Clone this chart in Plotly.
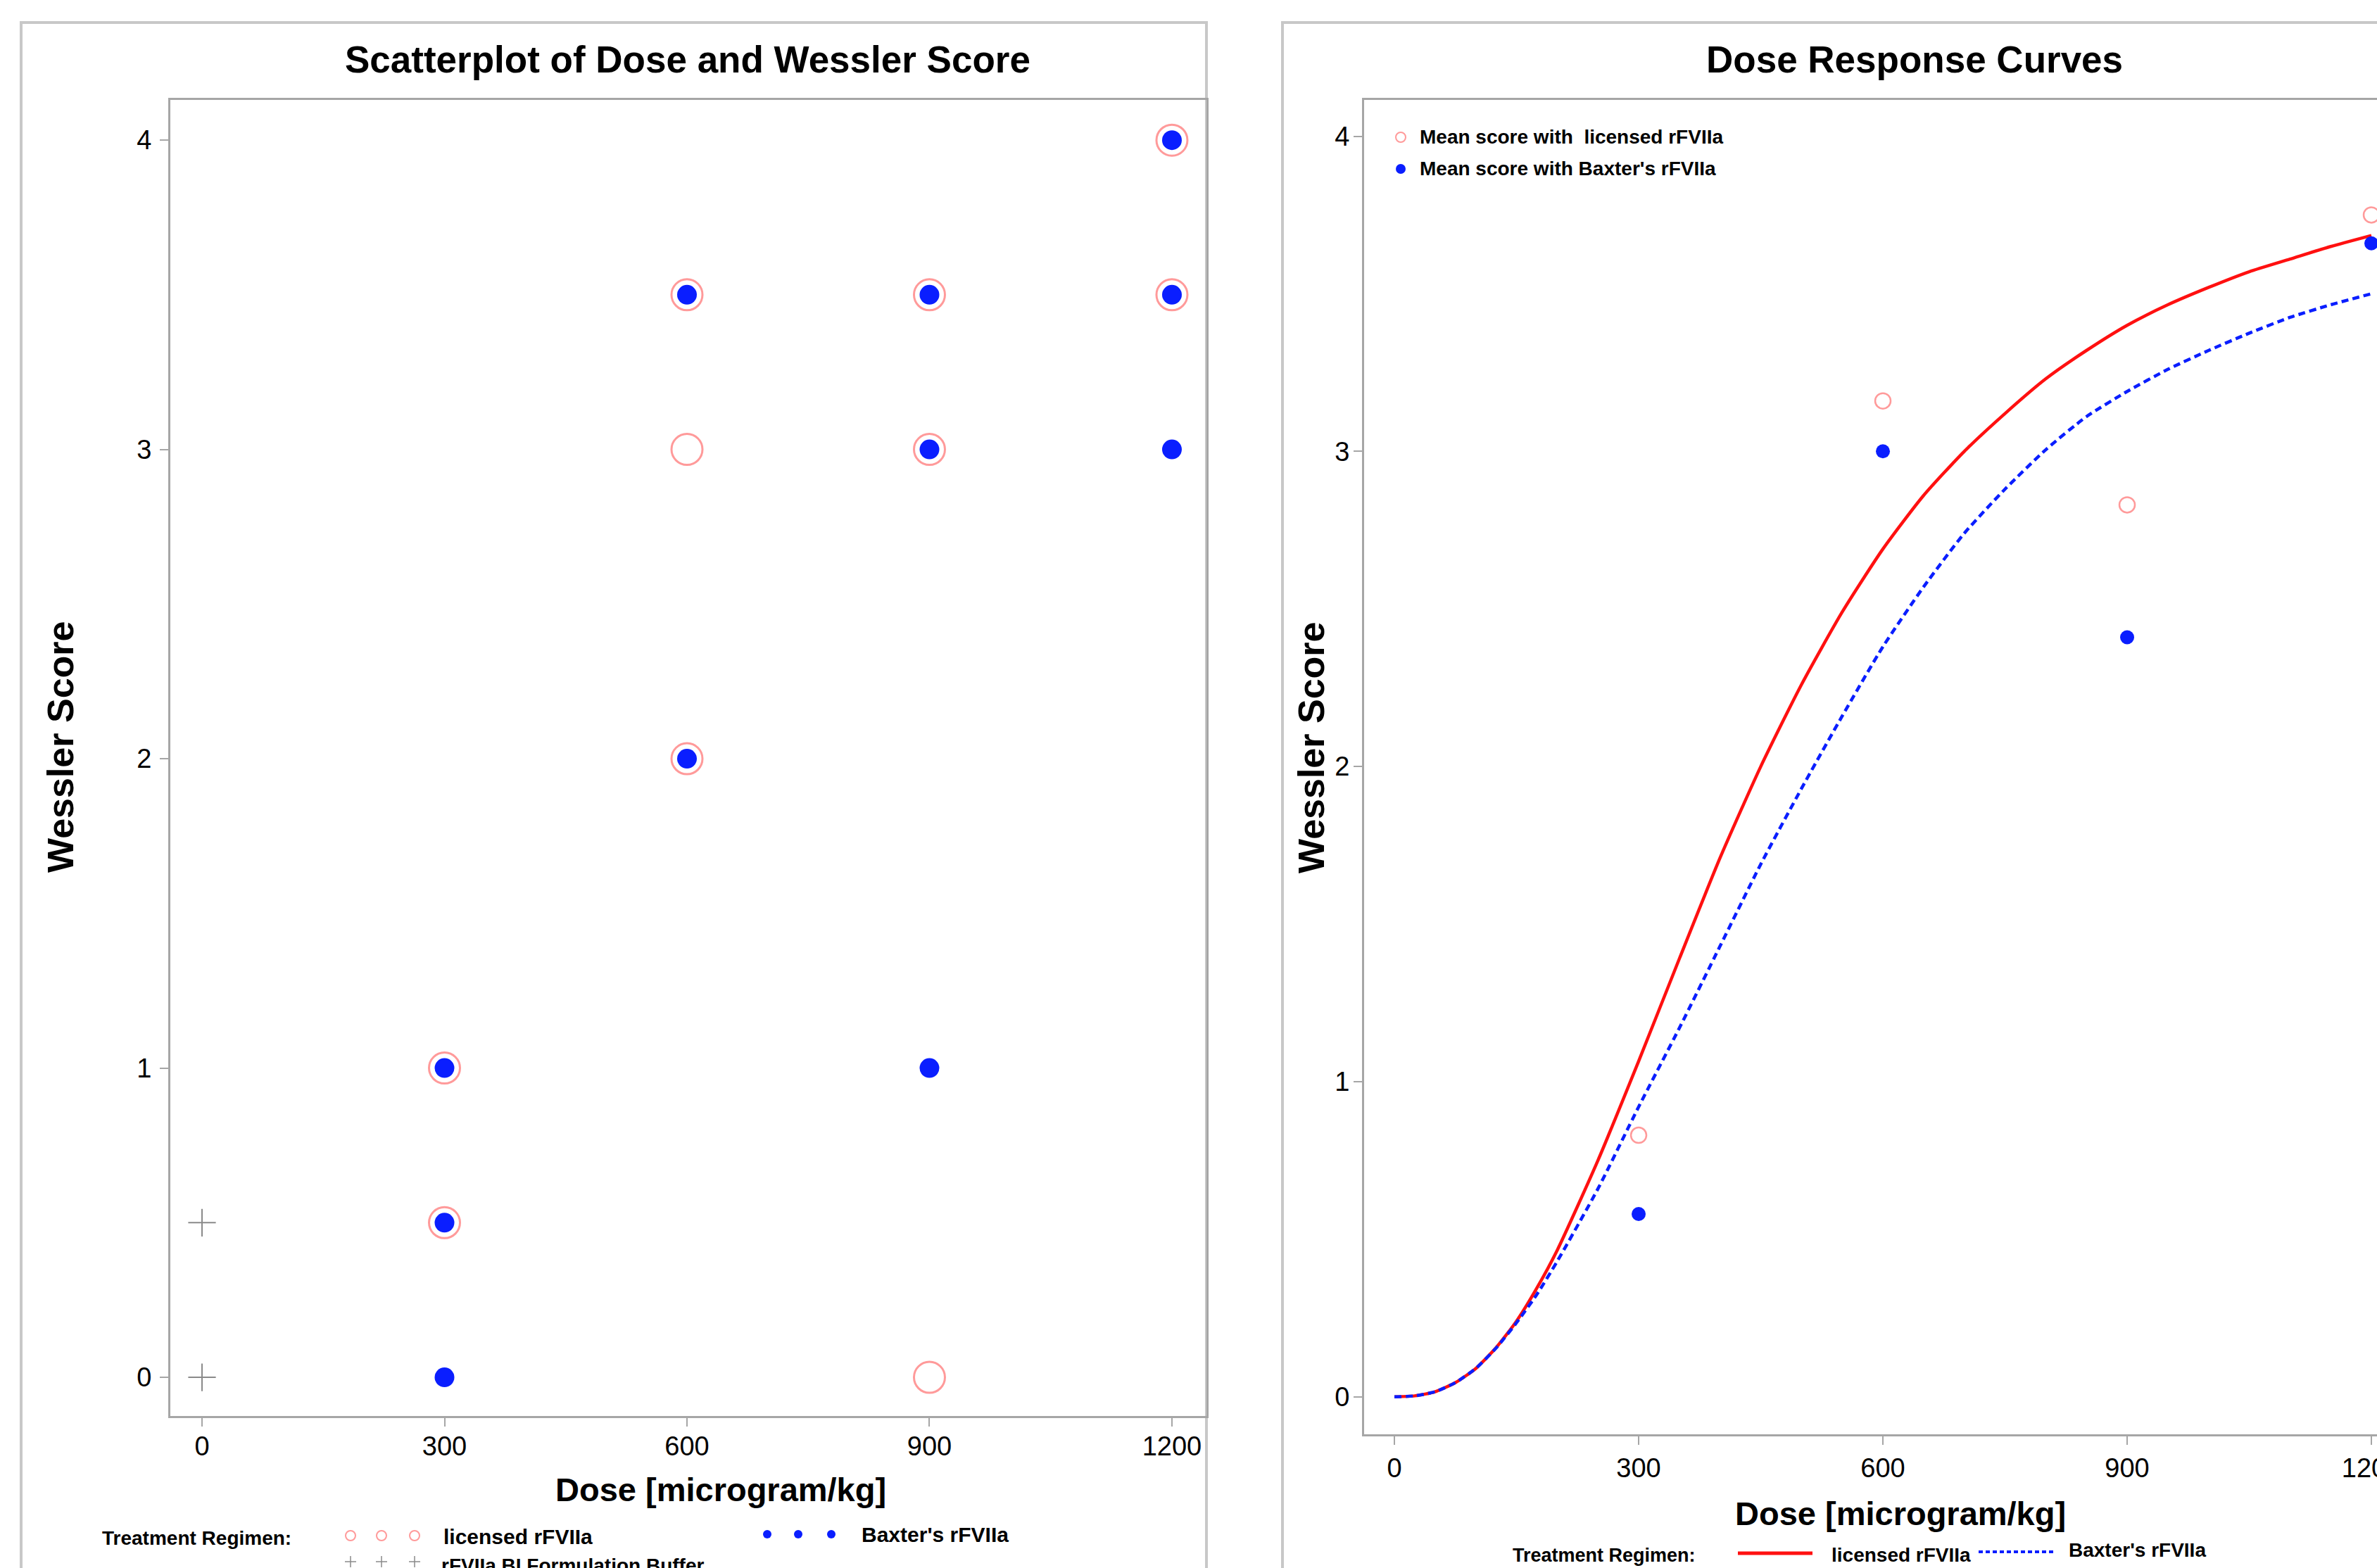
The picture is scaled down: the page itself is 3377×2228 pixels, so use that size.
import plotly.graph_objects as go

# ---------------- data ----------------
dose_ticks = [0, 300, 600, 900, 1200]
score_ticks = [0, 1, 2, 3, 4]

# Left panel: individual Wessler scores
lic_dose = [300, 300, 600, 600, 600, 900, 900, 900, 1200, 1200]
lic_score = [1, 0.5, 3.5, 3, 2, 3.5, 3, 0, 4, 3.5]
bax_dose = [300, 300, 300, 600, 600, 900, 900, 900, 1200, 1200, 1200]
bax_score = [1, 0.5, 0, 3.5, 2, 3.5, 3, 1, 4, 3.5, 3]
buf_dose = [0, 0]
buf_score = [0.5, 0]

# Right panel: mean scores
mean_dose = [300, 600, 900, 1200]
mean_lic = [0.83, 3.16, 2.83, 3.75]
mean_bax = [0.58, 3.0, 2.41, 3.66]

# Right panel: fitted dose-response curves
curve_x = [0, 25, 50, 75, 100, 125, 150, 175, 200, 250, 300, 350, 400, 450, 500, 550,
           600, 650, 700, 750, 800, 850, 900, 950, 1000, 1050, 1100, 1150, 1200]
curve_lic_y = [0, 0.003, 0.016, 0.045, 0.09, 0.156, 0.24, 0.345, 0.465, 0.75, 1.065, 1.39,
               1.71, 2.0, 2.26, 2.49, 2.69, 2.86, 3.0, 3.12, 3.23, 3.32, 3.40, 3.465, 3.52,
               3.57, 3.61, 3.65, 3.685]
curve_bax_y = [0, 0.003, 0.016, 0.045, 0.09, 0.155, 0.235, 0.325, 0.43, 0.66, 0.92, 1.17,
               1.43, 1.69, 1.93, 2.16, 2.38, 2.57, 2.74, 2.88, 3.005, 3.11, 3.19, 3.26, 3.32,
               3.375, 3.425, 3.465, 3.50]

# ---------------- styling ----------------
W, H = 3377, 2228
FONT = "Liberation Sans, Arial, Helvetica, sans-serif"
PINK = "#ff9a9a"
BLUE = "#0a1eff"
RED = "#ff1010"
AXIS_GRAY = "#a6a6a6"
FRAME_GRAY = "#c8c8c8"


def px(x):
    return x / W


def py(y):
    return 1 - y / H


fig = go.Figure()

# Left panel traces
fig.add_trace(go.Scatter(x=lic_dose, y=lic_score, mode="markers", xaxis="x", yaxis="y",
                         marker=dict(symbol="circle-open", size=44, color=PINK, line=dict(width=3)),
                         cliponaxis=False, showlegend=False))
fig.add_trace(go.Scatter(x=bax_dose, y=bax_score, mode="markers", xaxis="x", yaxis="y",
                         marker=dict(symbol="circle", size=28, color=BLUE, line=dict(width=0)),
                         cliponaxis=False, showlegend=False))
fig.add_trace(go.Scatter(x=buf_dose, y=buf_score, mode="markers", xaxis="x", yaxis="y",
                         marker=dict(symbol="cross-thin", size=28, color="#8a8a8a",
                                     line=dict(width=2, color="#8a8a8a")),
                         cliponaxis=False, showlegend=False))

# Right panel traces
fig.add_trace(go.Scatter(x=curve_x, y=curve_lic_y, mode="lines", xaxis="x2", yaxis="y2",
                         line=dict(color=RED, width=4.5, shape="spline", smoothing=0.6),
                         showlegend=False))
fig.add_trace(go.Scatter(x=curve_x, y=curve_bax_y, mode="lines", xaxis="x2", yaxis="y2",
                         line=dict(color=BLUE, width=4.5, dash="10px,6px", shape="spline", smoothing=0.6),
                         showlegend=False))
fig.add_trace(go.Scatter(x=mean_dose, y=mean_lic, mode="markers", xaxis="x2", yaxis="y2",
                         marker=dict(symbol="circle-open", size=22, color=PINK, line=dict(width=2.5)),
                         cliponaxis=False, showlegend=False))
fig.add_trace(go.Scatter(x=mean_dose, y=mean_bax, mode="markers", xaxis="x2", yaxis="y2",
                         marker=dict(symbol="circle", size=20, color=BLUE, line=dict(width=0)),
                         cliponaxis=False, showlegend=False))

axis_common = dict(showgrid=False, zeroline=False, showline=True, mirror=True,
                   linecolor=AXIS_GRAY, linewidth=3, ticks="outside", ticklen=12,
                   tickwidth=2, tickcolor=AXIS_GRAY, ticklabeloverflow="allow",
                   automargin=False,
                   tickfont=dict(family=FONT, size=38, color="black"))

fig.update_layout(
    width=W, height=H,
    margin=dict(l=0, r=0, t=0, b=0, pad=0, autoexpand=False),
    paper_bgcolor="white", plot_bgcolor="white",
    showlegend=False,
    xaxis=dict(domain=[px(242), px(1714)], range=[-39.2, 1242.7], tickvals=dose_ticks,
               anchor="y", ticklabelstandoff=-5, **axis_common),
    yaxis=dict(domain=[py(2012), py(142)], range=[-0.125, 4.130], tickvals=score_ticks,
               anchor="x", ticklabelstandoff=4, **axis_common),
    xaxis2=dict(domain=[px(1938), 1.0], range=[-37.2, 1206.9], tickvals=dose_ticks,
                anchor="y2", ticklabelstandoff=0, **axis_common),
    yaxis2=dict(domain=[py(2038), py(142)], range=[-0.119, 4.115], tickvals=score_ticks,
                anchor="x2", ticklabelstandoff=-2, **axis_common),
)

shapes = []
# panel frames (extend beyond the visible page)
shapes.append(dict(type="rect", xref="paper", yref="paper", x0=px(30), x1=px(1714),
                   y0=-0.05, y1=py(32), line=dict(color=FRAME_GRAY, width=4), layer="below"))
shapes.append(dict(type="rect", xref="paper", yref="paper", x0=px(1822), x1=1.05,
                   y0=-0.05, y1=py(32), line=dict(color=FRAME_GRAY, width=4), layer="below"))


def circle(cx, cy, r, fill, line_color, lw):
    return dict(type="circle", xref="paper", yref="paper", x0=px(cx - r), x1=px(cx + r),
                y0=py(cy + r), y1=py(cy - r), fillcolor=fill, line=dict(color=line_color, width=lw))


# left legend symbols
for cx in [498, 542, 589]:
    shapes.append(circle(cx, 2182, 7, "rgba(0,0,0,0)", PINK, 2))
for cx in [1090, 1134, 1181]:
    shapes.append(circle(cx, 2180, 6, BLUE, BLUE, 0))
for cx in [498, 542, 589]:
    shapes.append(dict(type="line", xref="paper", yref="paper", x0=px(cx - 8), x1=px(cx + 8),
                       y0=py(2219), y1=py(2219), line=dict(color="#8a8a8a", width=1.5)))
    shapes.append(dict(type="line", xref="paper", yref="paper", x0=px(cx), x1=px(cx),
                       y0=py(2211), y1=py(2227), line=dict(color="#8a8a8a", width=1.5)))

# right top legend symbols
shapes.append(circle(1990, 195, 7, "rgba(0,0,0,0)", PINK, 2))
shapes.append(circle(1990, 240, 7, BLUE, BLUE, 0))

# right bottom legend line samples
shapes.append(dict(type="line", xref="paper", yref="paper", x0=px(2469), x1=px(2575),
                   y0=py(2207), y1=py(2207), line=dict(color=RED, width=5)))
shapes.append(dict(type="line", xref="paper", yref="paper", x0=px(2811), x1=px(2917),
                   y0=py(2205), y1=py(2205), line=dict(color=BLUE, width=4, dash="6px,4px")))

fig.update_layout(shapes=shapes)


def ann(text, x, y, size, bold=True, xanchor="center", angle=0):
    t = f"<b>{text}</b>" if bold else text
    return dict(text=t, x=px(x), y=py(y), xref="paper", yref="paper", showarrow=False,
                xanchor=xanchor, yanchor="middle", textangle=angle,
                font=dict(family=FONT, size=size, color="black"))


annotations = [
    ann("Scatterplot of Dose and Wessler Score", 977, 84, 53),
    ann("Dose Response Curves", 2720, 84, 53),
    ann("Dose [microgram/kg]", 1024, 2116, 47),
    ann("Dose [microgram/kg]", 2700, 2150, 47),
    ann("Wessler Score", 86, 1062, 52, angle=-90),
    ann("Wessler Score", 1863, 1062, 52, angle=-90),
    # left legend
    ann("Treatment Regimen:", 143, 2185, 28, xanchor="left"),
    ann("licensed rFVIIa", 628, 2183, 30, xanchor="left"),
    ann("Baxter's rFVIIa", 1222, 2180, 30, xanchor="left"),
    ann("rFVIIa BI Formulation Buffer", 625, 2224, 28, xanchor="left"),
    # right top legend
    ann("Mean score with&nbsp; licensed rFVIIa", 2015, 194, 28, xanchor="left"),
    ann("Mean score with Baxter's rFVIIa", 2015, 240, 28, xanchor="left"),
    # right bottom legend
    ann("Treatment Regimen:", 2147, 2210, 27, xanchor="left"),
    ann("licensed rFVIIa", 2600, 2209, 28, xanchor="left"),
    ann("Baxter's rFVIIa", 2937, 2202, 28, xanchor="left"),
]
fig.update_layout(annotations=annotations)

post = (
    "document.documentElement.style.margin='0';"
    "document.documentElement.style.overflow='hidden';"
    "document.body.style.margin='0';"
    "document.body.style.overflow='hidden';"
    "document.querySelectorAll('.plotly-graph-div, .svg-container').forEach(function(e){"
    "e.style.overflow='hidden';});"
)
fig.write_html("out.html", config={"displayModeBar": False, "staticPlot": True},
               post_script=post)
